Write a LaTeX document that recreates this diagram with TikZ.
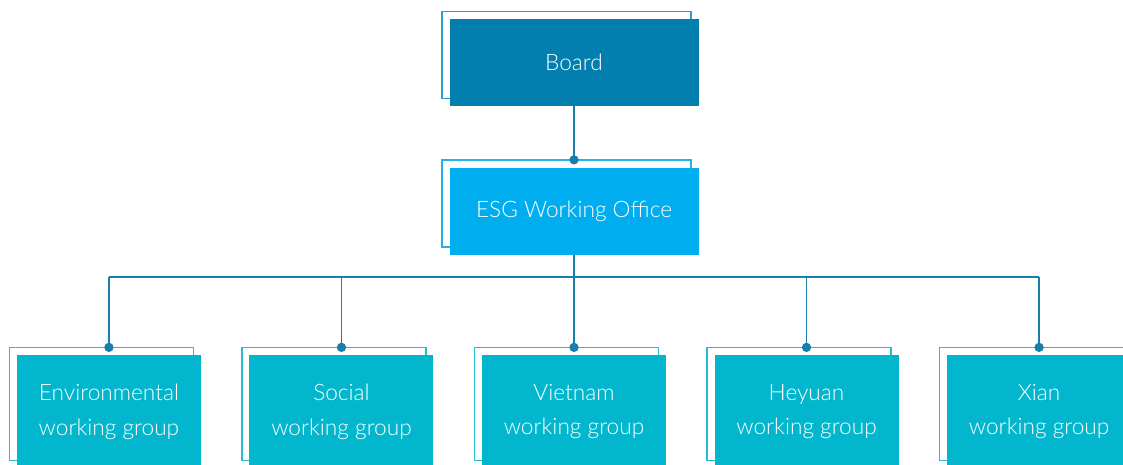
\documentclass[tikz,border=0pt]{standalone}
\usepackage{fontspec}
\setmainfont{Lato}[UprightFont=* Light]
\usepackage{xcolor}
\usetikzlibrary{positioning, shadows}

\definecolor{boardblue}{HTML}{037FAF}
\definecolor{officeblue}{HTML}{00AEEF}
\definecolor{groupcyan}{HTML}{02B7CD}
\definecolor{linkblue}{HTML}{1A7EAD}
\definecolor{boardline}{HTML}{2A9FD0}
\definecolor{officeline}{HTML}{22B1E8}
\definecolor{groupline}{HTML}{25BCD0}

\tikzset{
  unit/.style={fill=#1, text=white, align=center, inner sep=0pt,
    font=\fontsize{17}{26}\selectfont},
  framed/.style={general shadow={shadow xshift=-5.6pt, shadow yshift=5.6pt,
    fill=white, draw=#1, line width=1.2pt}},
  topbox/.style={minimum width=186.75pt, minimum height=65.25pt},
  groupbox/.style={unit=groupcyan, framed=groupline,
    minimum width=138pt, minimum height=84.75pt},
  link/.style={draw=linkblue, line width=1.2pt},
  joint/.style={circle, fill=linkblue, inner sep=0pt, minimum size=7pt}
}

\begin{document}
\begin{tikzpicture}[node distance=36pt]
    \useasboundingbox (0,0) rectangle (842.25pt,-348pt);

    % Board and office
    \node (board) [unit=boardblue, framed=boardline, topbox] at (430.5pt,-46.9pt) {Board};
    \node (office) [unit=officeblue, framed=officeline, topbox, below=45.75pt of board] {ESG Working Office};

    % Working groups
    \node (vietnam) [groupbox, below=75pt of office] {Vietnam\\working group};
    \node (social) [groupbox, left=of vietnam] {Social\\working group};
    \node (env) [groupbox, left=of social] {Environmental\\working group};
    \node (heyuan) [groupbox, right=of vietnam] {Heyuan\\working group};
    \node (xian) [groupbox, right=of heyuan] {Xian\\working group};

    % Connectors
    \draw[link] (board.south) -- ([yshift=5.6pt]office.north) node[joint] {};
    \draw[link] (office.south) -- ++(0,-16.5pt) coordinate (bus);
    \draw[link] (bus -| env.north) -- (bus -| xian.north);
    \foreach \g in {env, social, vietnam, heyuan, xian}
        \draw[link] (bus -| \g.north) -- ([yshift=5.6pt]\g.north) node[joint] {};
\end{tikzpicture}
\end{document}
